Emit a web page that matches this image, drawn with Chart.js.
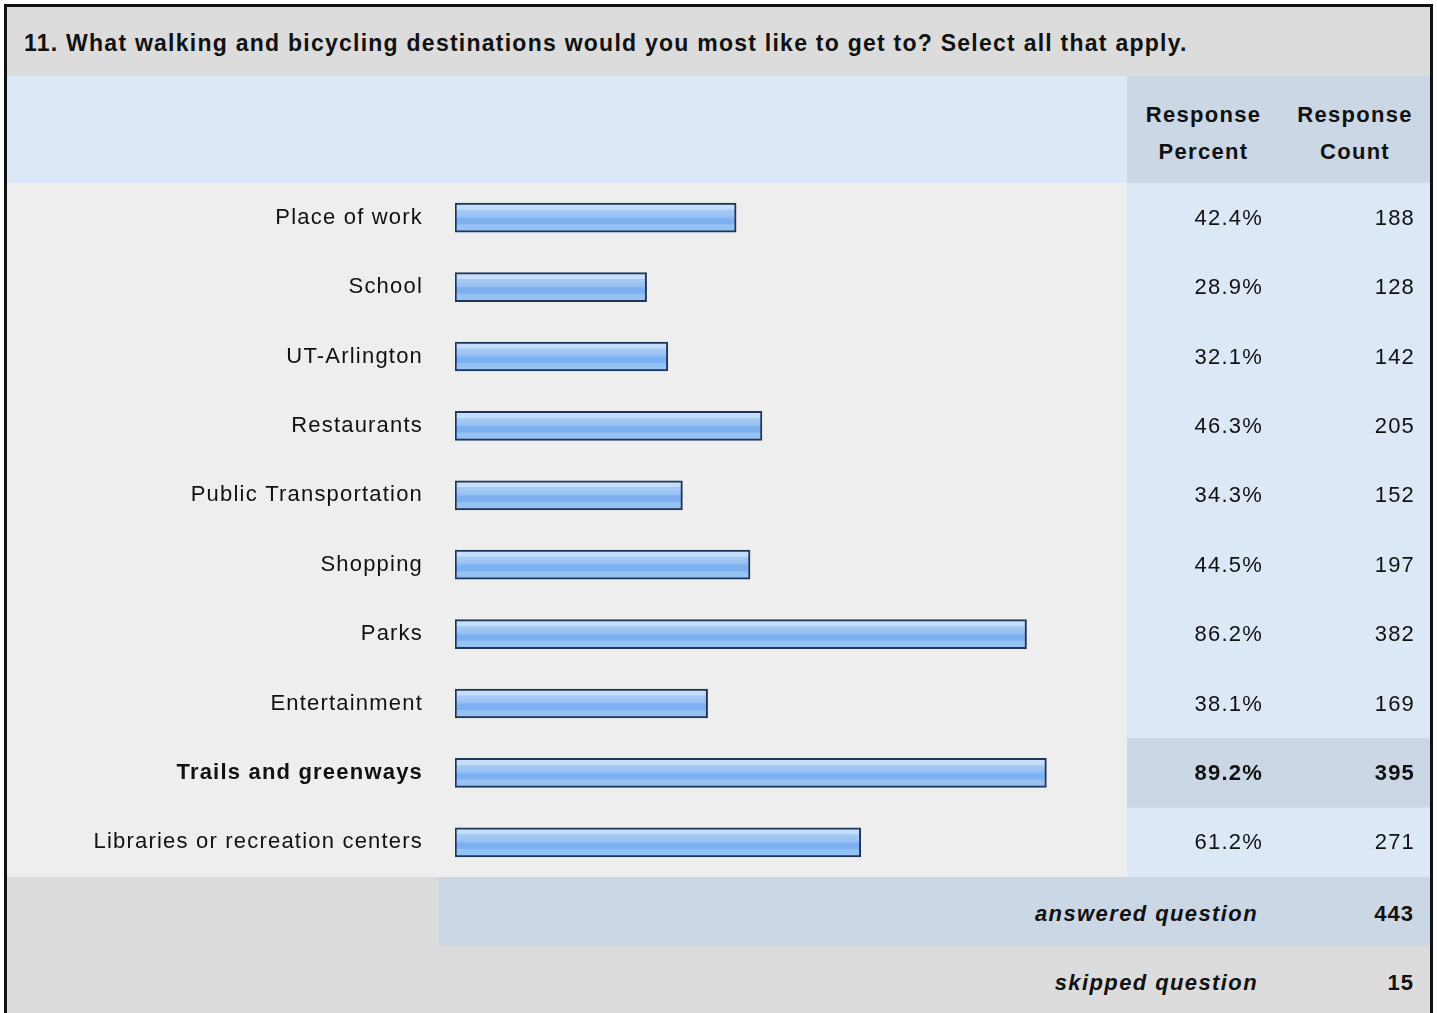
<!DOCTYPE html>
<html>
<head>
<meta charset="utf-8">
<script src="https://cdn.jsdelivr.net/npm/chart.js@4/dist/chart.umd.min.js"></script>
<style>
  body { margin: 0; background: #fff; font-family: "Liberation Sans", Arial, sans-serif; color: #111; }
  .box { position: absolute; left: 4px; top: 4px; width: 1423px; border: 3px solid #111; border-bottom: none; }
  .title { height: 69px; box-sizing: border-box; padding-top: 4px; background: #dcdcdc; font-weight: bold; font-size: 23px; line-height: 65px; padding-left: 17px; letter-spacing: 1.25px; }
  .head { display: flex; height: 107px; background: #dce8f5; }
  .head .sp { width: 1120px; }
  .head .col { background: #cbd7e4; font-weight: bold; font-size: 22px; text-align: center; display: flex; align-items: center; justify-content: center; line-height: 37px; letter-spacing: 1.3px; padding-top: 6px; box-sizing: border-box; }
  .rows { position: relative; width: 1423px; height: 694px; }
  .foot { display: flex; height: 69px; font-size: 22px; font-weight: bold; align-items: stretch; }
  .foot .lab { font-style: italic; text-align: right; padding-right: 22px; display: flex; align-items: center; justify-content: flex-end; letter-spacing: 1.4px; padding-top: 4px; }
  .foot .num { width: 150px; box-sizing: border-box; padding-right: 16px; padding-top: 4px; display: flex; align-items: center; justify-content: flex-end; letter-spacing: 1px; }
</style>
</head>
<body>
<div class="box">
  <div class="title">11. What walking and bicycling destinations would you most like to get to? Select all that apply.</div>
  <div class="head">
    <div class="sp"></div>
    <div class="col" style="width:153px">Response<br>Percent</div>
    <div class="col" style="width:150px">Response<br>Count</div>
  </div>
  <div class="rows"><canvas id="chart"></canvas></div>
  <div class="foot" style="background:#dcdcdc">
    <div style="width:432px"></div>
    <div style="display:flex;flex:1;background:#cbd7e4">
      <div class="lab" style="flex:1">answered question</div>
      <div class="num" id="answered"></div>
    </div>
  </div>
  <div class="foot" style="background:#dcdcdc">
    <div class="lab" style="flex:1">skipped question</div>
    <div class="num" id="skipped"></div>
  </div>
</div>
<script>
// dados
const categories = ["Place of work", "School", "UT-Arlington", "Restaurants", "Public Transportation",
  "Shopping", "Parks", "Entertainment", "Trails and greenways", "Libraries or recreation centers"];
const percents = [42.4, 28.9, 32.1, 46.3, 34.3, 44.5, 86.2, 38.1, 89.2, 61.2];
const counts = [188, 128, 142, 205, 152, 197, 382, 169, 395, 271];
const answered = 443;
const skipped = 15;
const highlight = 8; // linha em destaque (maior valor)

document.getElementById("answered").textContent = answered;
document.getElementById("skipped").textContent = skipped;

const font = "'Liberation Sans', Arial, sans-serif";

// fundo das linhas e colunas de percentual / contagem
const tablePlugin = {
  id: "table",
  beforeDraw(chart) {
    const { ctx, width, height } = chart;
    const y = chart.scales.y;
    const band = height / categories.length;
    ctx.fillStyle = "#eeeeee";
    ctx.fillRect(0, 0, width, height);
    ctx.fillStyle = "#dce8f5";
    ctx.fillRect(1120, 0, width - 1120, height);
    ctx.fillStyle = "#cbd7e4";
    const yc = y.getPixelForValue(highlight);
    ctx.fillRect(1120, yc - band / 2, width - 1120, band);
    ctx.letterSpacing = "1.2px"; // aproxima a largura do texto original
  },
  afterDatasetsDraw(chart) {
    const { ctx } = chart;
    const y = chart.scales.y;
    ctx.save();
    ctx.fillStyle = "#111";
    ctx.textAlign = "right";
    ctx.textBaseline = "middle";
    categories.forEach((c, i) => {
      const yc = y.getPixelForValue(i) + 1;
      ctx.font = (i === highlight ? "bold " : "") + "22px " + font;
      ctx.fillText(percents[i].toFixed(1) + "%", 1256, yc);
      ctx.fillText(String(counts[i]), 1408, yc);
    });
    ctx.restore();
  }
};

// gradiente listrado de cada barra
function barFill(context) {
  const chart = context.chart;
  const y = chart.scales.y;
  const yc = y ? y.getPixelForValue(context.dataIndex) : NaN;
  if (!isFinite(yc)) return "#96c0f4";
  const g = chart.ctx.createLinearGradient(0, yc - 14, 0, yc + 14);
  g.addColorStop(0, "#c6defa");
  g.addColorStop(0.2, "#c6defa");
  g.addColorStop(0.22, "#a8cbf6");
  g.addColorStop(0.45, "#98c2f4");
  g.addColorStop(0.55, "#7cb0f0");
  g.addColorStop(0.72, "#7cb0f0");
  g.addColorStop(0.75, "#96c1f5");
  g.addColorStop(1, "#96c1f5");
  return g;
}

const chart = new Chart(document.getElementById("chart"), {
  type: "bar",
  data: {
    labels: categories,
    datasets: [{
      data: percents,
      backgroundColor: barFill,
      borderColor: "#1e3658",
      borderWidth: 2,
      borderSkipped: false,
      barThickness: 29
    }]
  },
  options: {
    indexAxis: "y",
    responsive: true,
    maintainAspectRatio: false,
    animation: false,
    layout: { padding: { left: 0, right: 312, top: 0, bottom: 0 } },
    plugins: { legend: { display: false }, tooltip: { enabled: false } },
    scales: {
      x: { display: false, min: 0, max: 100 },
      y: {
        grid: { display: false, drawTicks: false },
        border: { display: false },
        afterFit(scale) {
          scale.width = 448;
          // as linhas ocupam toda a altura
          scale.paddingTop = 0;
          scale.paddingBottom = 0;
        },
        ticks: {
          padding: 32,
          color: "#111",
          font: (c) => ({ family: font, size: 22, weight: c.index === highlight ? "bold" : "normal" })
        }
      }
    }
  },
  plugins: [tablePlugin]
});
chart.update();
</script>
</body>
</html>
